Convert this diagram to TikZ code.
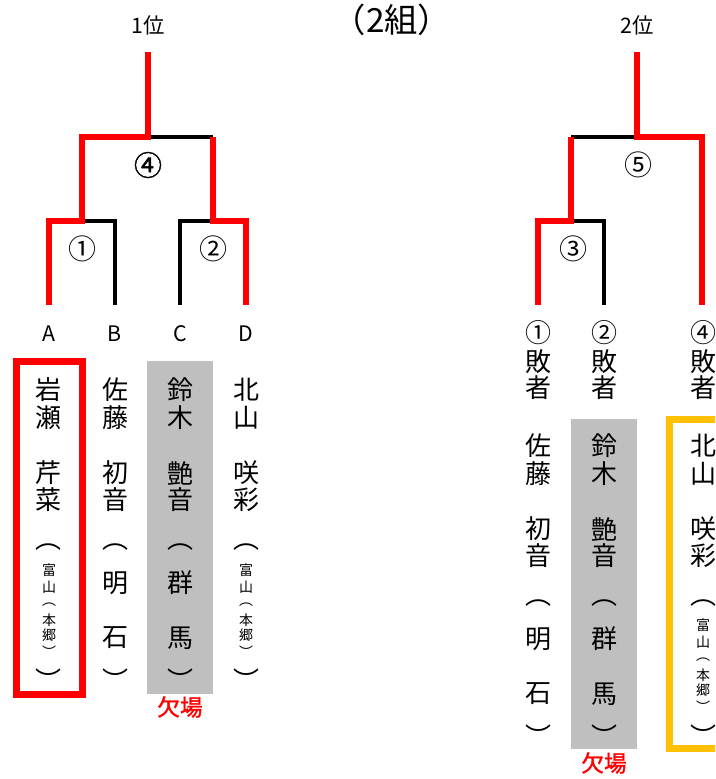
\documentclass[tikz,border=0pt]{standalone}
\usepackage{fontspec}
\setmainfont{Noto Sans CJK JP}
\newfontfamily\boldjp[FakeBold=1.5]{Noto Sans CJK JP}
\usetikzlibrary{calc}
\definecolor{winred}{RGB}{255,0,0}
\definecolor{absgray}{RGB}{191,191,191}
\definecolor{seedorange}{RGB}{255,192,0}

\begin{document}
\begin{tikzpicture}[x=0.75pt, y=-0.75pt,
    every node/.style={inner sep=0pt},
    lose/.style={line width=2.4pt, black},
    win/.style={line width=5.1pt, winred},
    bigch/.style={font=\fontsize{19.5pt}{20pt}\selectfont},
    smallch/.style={font=\fontsize{10.5pt}{11pt}\selectfont},
    letter/.style={font=\fontsize{16pt}{17pt}\selectfont},
    matchno/.style={font=\fontsize{21pt}{22pt}\selectfont},
    boldno/.style={font=\boldjp\fontsize{21pt}{22pt}\selectfont},
    rank/.style={font=\fontsize{16pt}{17pt}\selectfont},
    absent/.style={font=\boldjp\fontsize{17pt}{18pt}\selectfont, text=winred}]

    \clip (0,0) rectangle (715,779);

    \node[font=\fontsize{25pt}{26pt}\selectfont] (title) at (392,20) {（2組）};
    \node[rank] (first) at (148,25) {1位};
    \node[rank] (second) at (637,25) {2位};

    % left bracket
    \coordinate (w1) at (148,52);
    \coordinate (m4) at (148,137);
    \coordinate (m1) at (82,221);
    \coordinate (m2) at (213,221);
    \coordinate (A) at (49,305);
    \coordinate (B) at (115,305);
    \coordinate (C) at (180,305);
    \coordinate (D) at (246,305);

    \draw[lose] (m1) -| (B);
    \draw[lose] (m2) -| (C);
    \draw[lose] (m4) -- (m4 -| m2);
    \draw[win] (w1) -- (m4) -| (m1) -| (A);
    \draw[win] (m4 -| m2) -- (m2) -| (D);

    \node[boldno] (n4) at (148,165) {④};
    \node[matchno] (n1) at (82,249) {①};
    \node[matchno] (n2) at (213,249) {②};

    % right bracket
    \coordinate (w2) at (637,52);
    \coordinate (m5) at (637,137);
    \coordinate (m3) at (571,221);
    \coordinate (L1) at (538,305);
    \coordinate (L2) at (604,305);
    \coordinate (L4) at (702,305);

    \draw[lose] (m3) -| (L2);
    \draw[lose] (m5) -- (m5 -| m3);
    \draw[win] (m5 -| m3) -- (m3) -| (L1);
    \draw[win] (w2) -- (m5) -| (L4);

    \node[matchno] (n5) at (638,165) {⑤};
    \node[matchno] (n3) at (573,249) {③};

    % boxes
    \fill[absgray] (147,361) rectangle (213,694);
    \fill[absgray] (571,419) rectangle (637,749);
    \draw[winred, line width=5.25pt] (16.5,361) rectangle (82,694.5);
    \draw[seedorange, line width=5.25pt] (669.5,419.5) rectangle (740,748.5);

    \node[letter] (labA) at (49,334) {A};
    \node[letter] (labB) at (115,334) {B};
    \node[letter] (labC) at (180,334) {C};
    \node[letter] (labD) at (246,334) {D};

    \foreach \num/\xx in {①/538, ②/604, ④/703} {
        \node[bigch] (h\xx-1) at (\xx,333) {\num};
        \node[bigch] (h\xx-2) at (\xx,362) {敗};
        \node[bigch] (h\xx-3) at (\xx,388) {者};
    }

    % players
    \foreach \ch/\yy [count=\k] in {岩/390,瀬/418,芹/473,菜/500}
        \node[bigch] (pA-\k) at (49,\yy) {\ch};
    \foreach \ch/\yy [count=\k] in {佐/390,藤/418,初/473,音/500,明/583,石/638}
        \node[bigch] (pB-\k) at (115,\yy) {\ch};
    \foreach \ch/\yy [count=\k] in {鈴/390,木/418,艶/473,音/500,群/583,馬/638}
        \node[bigch] (pC-\k) at (180,\yy) {\ch};
    \foreach \ch/\yy [count=\k] in {北/390,山/418,咲/473,彩/500}
        \node[bigch] (pD-\k) at (246,\yy) {\ch};
    \foreach \ch/\yy [count=\k] in {佐/390,藤/418,初/473,音/500,明/583,石/638}
        \node[bigch] (p1-\k) at (538,\yy+56) {\ch};
    \foreach \ch/\yy [count=\k] in {鈴/390,木/418,艶/473,音/500,群/583,馬/638}
        \node[bigch] (p2-\k) at (604,\yy+56) {\ch};
    \foreach \ch/\yy [count=\k] in {北/390,山/418,咲/473,彩/500}
        \node[bigch] (p4-\k) at (703,\yy+56) {\ch};

    % parentheses and home towns
    \foreach \xx/\dy in {49/0, 115/0, 180/0, 246/0, 538/56, 604/56, 703/56} {
        \node[bigch] (op\xx) at (\xx,547+\dy) {︵};
        \node[bigch] (cl\xx) at (\xx,680+\dy) {︶};
    }
    \foreach \xx/\dy in {49/0, 246/0, 703/55} {
        \node[smallch] (t\xx-1) at (\xx,570+\dy) {富};
        \node[smallch] (t\xx-2) at (\xx,587+\dy) {山};
        \node[smallch] (t\xx-3) at (\xx,605+\dy) {︵};
        \node[smallch] (t\xx-4) at (\xx,620+\dy) {本};
        \node[smallch] (t\xx-5) at (\xx,635+\dy) {郷};
        \node[smallch] (t\xx-6) at (\xx,652+\dy) {︶};
    }

    \node[absent] (absC) at (180,707) {欠場};
    \node[absent] (abs2) at (604,763) {欠場};

\end{tikzpicture}
\end{document}
